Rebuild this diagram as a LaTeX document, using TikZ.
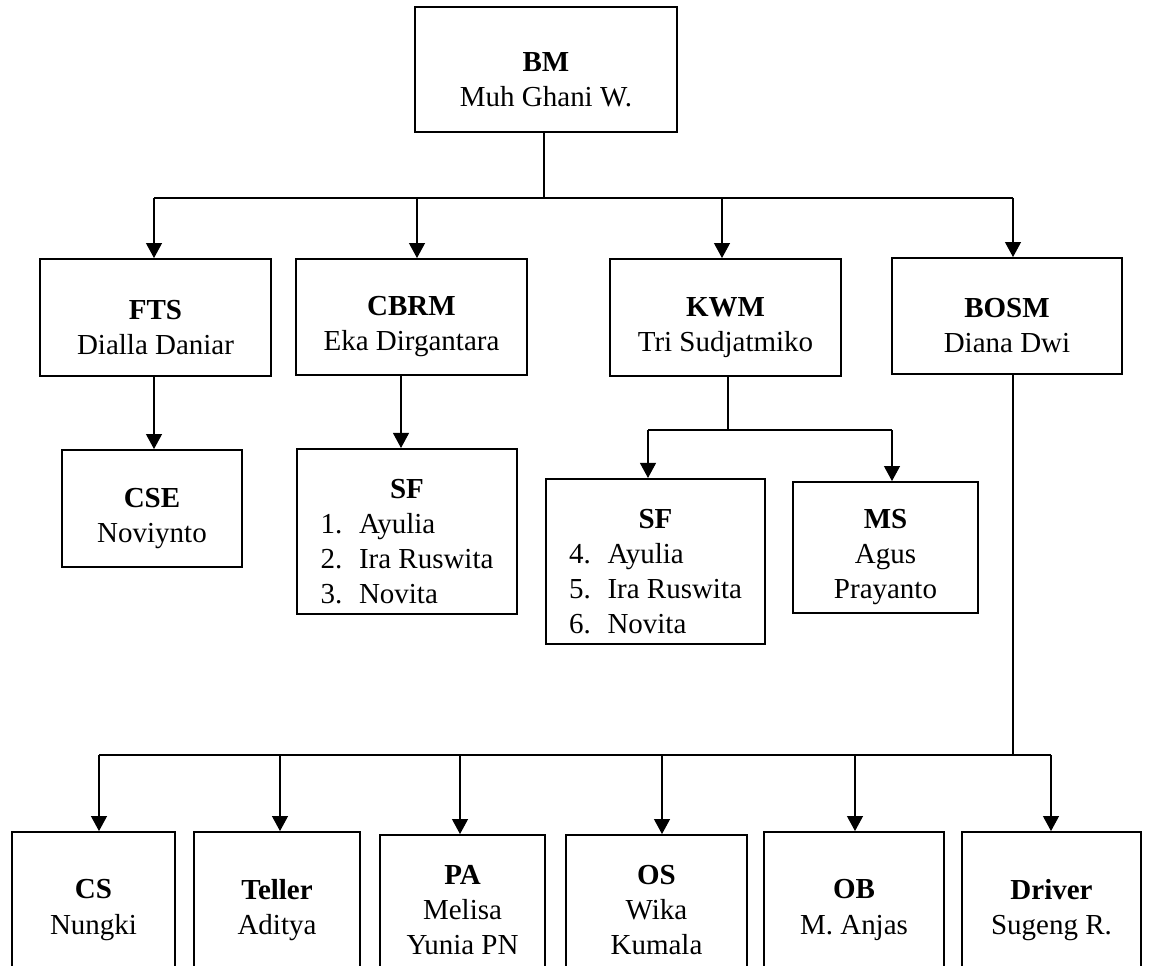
\documentclass[tikz,border=0pt]{standalone}
\usepackage{fontspec}
\setmainfont{Liberation Serif}
\usetikzlibrary{arrows.meta}
\newcommand{\sfItem}[1]{\makebox[0.77cm][l]{#1}}
\newcommand{\boxPad}{\rule{0pt}{22pt}}
\begin{document}
\begin{tikzpicture}[x=0.02cm,y=-0.02cm]
        \tikzstyle{orgBox}=[draw,line width=1.1pt,inner sep=0pt,align=center,font=\fontsize{16.5}{20}\selectfont]
        \tikzstyle{orgLine}=[line width=0.6pt]
        \tikzstyle{orgArrow}=[orgLine,-{Triangle[length=0.3cm,width=0.32cm]}]
    \useasboundingbox (0,0) rectangle (1150,966);

    \node[orgBox,minimum width=5.24cm,minimum height=2.5cm] (bm) at (546,69.5) {\boxPad\textbf{BM}\\Muh Ghani W.};

    \node[orgBox,minimum width=4.62cm,minimum height=2.34cm] (fts) at (155.5,317.5) {\boxPad\textbf{FTS}\\Dialla Daniar};
    \node[orgBox,minimum width=4.62cm,minimum height=2.32cm] (cbrm) at (411.5,317) {\boxPad\textbf{CBRM}\\Eka Dirgantara};
    \node[orgBox,minimum width=4.62cm,minimum height=2.34cm] (kwm) at (725.5,317.5) {\boxPad\textbf{KWM}\\Tri Sudjatmiko};
    \node[orgBox,minimum width=4.6cm,minimum height=2.32cm] (bosm) at (1007,316) {\boxPad\textbf{BOSM}\\Diana Dwi};

    \node[orgBox,minimum width=3.6cm,minimum height=2.34cm] (cse) at (152,508.5) {\boxPad\textbf{CSE}\\Noviynto};
    \node[orgBox,minimum width=4.4cm,minimum height=3.26cm] (sf1) at (407,531.5) {\begin{tabular}{@{}l@{}}\multicolumn{1}{@{}c@{}}{\rule{0pt}{28pt}\textbf{SF}}\\\sfItem{1.}Ayulia\\\sfItem{2.}Ira Ruswita\\\sfItem{3.}Novita\end{tabular}};
    \node[orgBox,minimum width=4.38cm,minimum height=3.26cm] (sf2) at (655.5,561.5) {\begin{tabular}{@{}l@{}}\multicolumn{1}{@{}c@{}}{\rule{0pt}{28pt}\textbf{SF}}\\\sfItem{4.}Ayulia\\\sfItem{5.}Ira Ruswita\\\sfItem{6.}Novita\end{tabular}};
    \node[orgBox,minimum width=3.7cm,minimum height=2.62cm] (ms) at (885.5,547.5) {\boxPad\textbf{MS}\\Agus\\Prayanto};

    % bottom row runs past the lower edge
    \node[orgBox,minimum width=3.26cm,minimum height=3.12cm] (cs) at (93.5,910) {\textbf{CS}\\Nungki};
    \node[orgBox,minimum width=3.32cm,minimum height=3.12cm] (teller) at (277,910) {\textbf{Teller}\\Aditya};
    \node[orgBox,minimum width=3.3cm,minimum height=3.0cm] (pa) at (462.5,910) {\textbf{PA}\\Melisa\\Yunia PN};
    \node[orgBox,minimum width=3.62cm,minimum height=3.0cm] (os) at (656.5,910) {\textbf{OS}\\Wika\\Kumala};
    \node[orgBox,minimum width=3.6cm,minimum height=3.12cm] (ob) at (854,910) {\textbf{OB}\\M. Anjas};
    \node[orgBox,minimum width=3.58cm,minimum height=3.12cm] (driver) at (1051.5,910) {\textbf{Driver}\\Sugeng R.};

    % junctions on the connector lines
    \coordinate (jBM) at (544,198);
    \coordinate (jFTS) at (154,198);
    \coordinate (jCBRM) at (417,198);
    \coordinate (jKWM) at (722,198);
    \coordinate (jBOSM) at (1013,198);
    \coordinate (jCSE) at (154,450);
    \coordinate (jSF1) at (401,450);
    \coordinate (kwmBus) at (728,430);
    \coordinate (jSF2) at (648,430);
    \coordinate (jMS) at (892,430);
    \coordinate (bosmBus) at (1013,755);
    \coordinate (jCS) at (99,755);
    \coordinate (jTeller) at (280,755);
    \coordinate (jPA) at (460,755);
    \coordinate (jOS) at (662,755);
    \coordinate (jOB) at (855,755);
    \coordinate (jDriver) at (1051,755);

    \draw[orgLine] (jBM |- bm.south) -- (jBM);
    \draw[orgLine] (jFTS) -- (jBOSM);
    \draw[orgArrow] (jFTS) -- (jFTS |- fts.north);
    \draw[orgArrow] (jCBRM) -- (jCBRM |- cbrm.north);
    \draw[orgArrow] (jKWM) -- (jKWM |- kwm.north);
    \draw[orgArrow] (jBOSM) -- (jBOSM |- bosm.north);

    \draw[orgArrow] (jCSE |- fts.south) -- (jCSE |- cse.north);
    \draw[orgArrow] (jSF1 |- cbrm.south) -- (jSF1 |- sf1.north);

    \draw[orgLine] (kwmBus |- kwm.south) -- (kwmBus);
    \draw[orgLine] (jSF2) -- (jMS);
    \draw[orgArrow] (jSF2) -- (jSF2 |- sf2.north);
    \draw[orgArrow] (jMS) -- (jMS |- ms.north);

    \draw[orgLine] (bosmBus |- bosm.south) -- (bosmBus);
    \draw[orgLine] (jCS) -- (jDriver);
    \draw[orgArrow] (jCS) -- (jCS |- cs.north);
    \draw[orgArrow] (jTeller) -- (jTeller |- teller.north);
    \draw[orgArrow] (jPA) -- (jPA |- pa.north);
    \draw[orgArrow] (jOS) -- (jOS |- os.north);
    \draw[orgArrow] (jOB) -- (jOB |- ob.north);
    \draw[orgArrow] (jDriver) -- (jDriver |- driver.north);
\end{tikzpicture}
\end{document}
